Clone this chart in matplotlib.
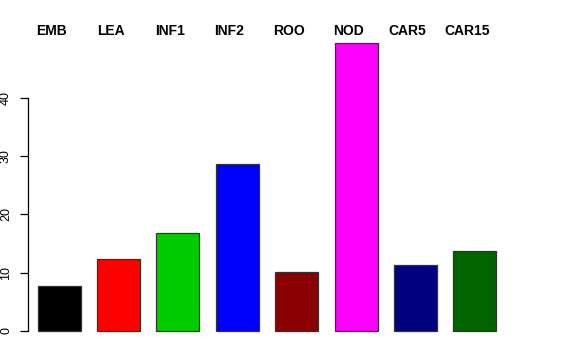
import numpy as np
import matplotlib
matplotlib.use("Agg")
import matplotlib.pyplot as plt
import matplotlib.transforms as mtransforms

plt.rcParams['font.family'] = ['Liberation Sans', 'DejaVu Sans']

# tissue groups and their values
groups = ['EMB', 'LEA', 'INF1', 'INF2', 'ROO', 'NOD', 'CAR5', 'CAR15']
values = [7.7, 12.3, 16.8, 28.6, 10.2, 49.5, 11.3, 13.7]
colors = ['black', 'red', '#00CD00', 'blue', '#8B0000', 'magenta', '#000080', '#006400']
yticks = [0, 10, 20, 30, 40]

W, H = 576, 360
fig = plt.figure(figsize=(W / 100, H / 100), dpi=100)

# plot region in pixels (left, top, right, bottom)
px_l, px_t, px_r, px_b = 28, 31, 506, 342
ax = fig.add_axes([px_l / W, 1 - px_b / H, (px_r - px_l) / W, (px_b - px_t) / H])

x = np.arange(len(groups))
ax.bar(x, values, width=0.725, color=colors, edgecolor='#333333', linewidth=0.9)

# pixel scale: 0 at y=331, 40 at y=98
ppu = (331 - 98) / 40.0
ax.set_ylim(-(px_b - 331) / ppu, (331 - px_t) / ppu)
ax.set_xlim(-0.526, 7.526)

for s in ['top', 'right', 'bottom']:
    ax.spines[s].set_visible(False)
ax.spines['left'].set_bounds(0, 40)
ax.spines['left'].set_linewidth(0.9)
ax.set_xticks([])
ax.set_yticks(yticks)
ax.set_yticklabels([str(v) for v in yticks], rotation=90, va='center', fontsize=9)
ax.tick_params(axis='y', length=5.5, width=0.9, pad=6)

# group names on top, shifted a bit left of each bar
trans = mtransforms.blended_transform_factory(ax.transData, ax.transAxes)
off = mtransforms.ScaledTranslation(-8 / 100, 0, fig.dpi_scale_trans)
for xi, name in zip(x, groups):
    ax.text(xi, 1.0, name, transform=trans + off, ha='center', va='center',
            fontsize=10, fontweight='bold')

fig.savefig('out.png', dpi=100)
